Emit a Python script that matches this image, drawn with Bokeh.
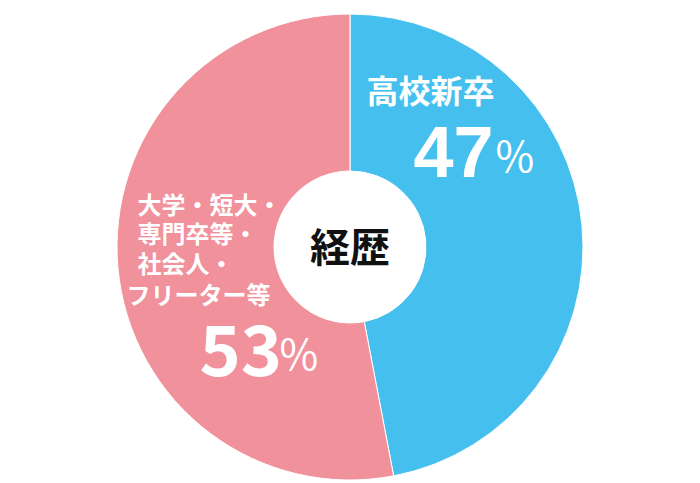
import math
from bokeh.plotting import figure
from bokeh.models import Range1d, ColumnDataSource
from bokeh.core.properties import value
from bokeh.embed import file_html
from bokeh.resources import INLINE

# ---- data ----
categories = ["高校新卒", "大学・短大・専門卒等・社会人・フリーター等"]
shares = [47, 53]
colors = ["#45BFEE", "#F0919B"]
center_title = "経歴"
label_lines_left = ["大学・短大・", "専門卒等・", "社会人・", "フリーター等"]
label_right = "高校新卒"

W, H = 700, 483
p = figure(width=W, height=H, output_backend="svg", toolbar_location=None,
           x_range=Range1d(0, W), y_range=Range1d(0, H), min_border=0,
           background_fill_color="white", border_fill_color="white")
p.axis.visible = False
p.grid.visible = False
p.outline_line_color = None

def px(x):  # picture x -> data x
    return x

def py(y):  # picture y -> data y
    return H - y

cx, cy = px(349.5), py(246.5)
R_OUT, R_IN = 233, 76

total = float(sum(shares))
starts, ends = [], []
cum = 0.0
for s in shares:
    a0 = cum / total * 2 * math.pi
    cum += s
    a1 = cum / total * 2 * math.pi
    # clockwise from top -> bokeh counter-clockwise angles
    starts.append(math.pi / 2 - a1)
    ends.append(math.pi / 2 - a0)

src = ColumnDataSource(dict(x=[cx] * len(shares), y=[cy] * len(shares),
                            start=starts, end=ends, color=colors))
p.annular_wedge(x="x", y="y", inner_radius=R_IN, outer_radius=R_OUT,
                start_angle="start", end_angle="end", fill_color="color",
                line_color="white", line_width=1, source=src)

JP = value("Noto Sans CJK JP")

# center title
p.text(x=[cx], y=[py(244.5)], text=[center_title], text_font=JP, text_font_style="bold",
       text_font_size="40px", text_color="#111111", text_align="center",
       text_baseline="middle")

# right label
p.text(x=[px(366)], y=[py(88)], text=[label_right], text_font=JP,
       text_font_style="bold", text_font_size="32px", text_color="white",
       text_align="left", text_baseline="middle")
p.text(x=[px(413)], y=[py(151)], text=[str(shares[0])],
       text_font=value("Liberation Sans"), text_font_style="bold",
       text_font_size="72px", text_color="white", text_align="left",
       text_baseline="alphabetic")
p.text(x=[px(495)], y=[py(153)], text=["%"], text_font=JP,
       text_font_size="42px", text_color="white", text_align="left",
       text_baseline="alphabetic")

# left label
left_x = [137, 137, 137, 126]
left_y = [202.5, 232, 262, 292.5]
p.text(x=[px(v) for v in left_x], y=[py(v) for v in left_y], text=label_lines_left,
       text_font=JP, text_font_style="bold", text_font_size="24px",
       text_color="white", text_align="left", text_baseline="middle")
p.text(x=[px(199)], y=[py(349)], text=[str(shares[1])], text_font=JP,
       text_font_style="bold", text_font_size="70px", text_color="white",
       text_align="left", text_baseline="alphabetic")
p.text(x=[px(279)], y=[py(351)], text=["%"], text_font=JP,
       text_font_size="42px", text_color="white", text_align="left",
       text_baseline="alphabetic")

open("out.html", "w").write(file_html(p, INLINE))
